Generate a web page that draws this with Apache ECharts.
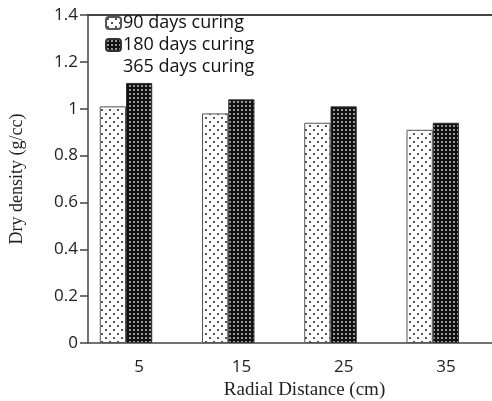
<!DOCTYPE html>
<html>
<head>
<meta charset="utf-8">
<script src="https://cdn.jsdelivr.net/npm/echarts@6/dist/echarts.min.js"></script>
<style>
  html, body { margin: 0; padding: 0; background: #fff; }
  #chart { width: 492px; height: 401px; }
</style>
</head>
<body>
<div id="chart"></div>
<script>
  // data
  var distances = ['5', '15', '25', '35'];
  var days90 = [1.01, 0.98, 0.94, 0.91];
  var days180 = [1.11, 1.04, 1.01, 0.94];
  var days365 = [0, 0, 0, 0];
  var yTicks = [0, 0.2, 0.4, 0.6, 0.8, 1, 1.2, 1.4];

  // fill patterns
  function dotPattern() {
    var c = document.createElement('canvas');
    c.width = 8; c.height = 8;
    var ctx = c.getContext('2d');
    ctx.fillStyle = '#fff';
    ctx.fillRect(0, 0, 8, 8);
    ctx.fillStyle = '#555';
    ctx.fillRect(1, 1, 2, 2);
    ctx.fillRect(5, 5, 2, 2);
    return c;
  }
  function gridPattern() {
    var c = document.createElement('canvas');
    c.width = 4; c.height = 4;
    var ctx = c.getContext('2d');
    ctx.fillStyle = '#111';
    ctx.fillRect(0, 0, 4, 4);
    ctx.fillStyle = '#999';
    ctx.fillRect(1, 1, 2, 2);
    return c;
  }

  var chart = echarts.init(document.getElementById('chart'));
  var tickFont = { fontFamily: 'Open Sans', fontSize: 17, color: '#222' };

  chart.setOption({
    animation: false,
    grid: { left: 88, right: -5, top: 15, bottom: 58, outerBoundsMode: 'none' },
    legend: {
      orient: 'vertical',
      left: 100, top: 9,
      itemWidth: 15, itemHeight: 12, itemGap: 4,
      textStyle: { fontFamily: 'Open Sans', fontSize: 18, color: '#111', padding: [0, 0, 0, -3] },
      data: ['90 days curing', '180 days curing', '365 days curing']
    },
    xAxis: [{
      type: 'category',
      data: distances,
      name: 'Radial Distance (cm)',
      nameLocation: 'middle',
      nameGap: 37,
      nameTextStyle: { fontFamily: 'Liberation Serif', fontSize: 19, color: '#222', padding: [0, 0, 0, 24] },
      axisLine: { lineStyle: { color: '#444', width: 1.5 } },
      axisTick: { show: false },
      axisLabel: Object.assign({ margin: 16 }, tickFont)
    }, {
      type: 'category',
      position: 'top',
      data: distances,
      axisLine: { lineStyle: { color: '#444', width: 2 } },
      axisTick: { show: false },
      axisLabel: { show: false }
    }],
    yAxis: {
      type: 'value',
      min: 0, max: 1.4, interval: 0.2,
      name: 'Dry density (g/cc)',
      nameLocation: 'middle',
      nameGap: 62,
      nameTextStyle: { fontFamily: 'Liberation Serif', fontSize: 18, color: '#222' },
      axisLine: { show: true, lineStyle: { color: '#444', width: 1.5 } },
      axisTick: { show: true, length: 8, lineStyle: { color: '#444', width: 1.5 } },
      splitLine: { show: false },
      axisLabel: Object.assign({
        margin: 10,
        formatter: function (v) {
          for (var i = 0; i < yTicks.length; i++) {
            if (Math.abs(yTicks[i] - v) < 1e-6) return String(yTicks[i]);
          }
          return '';
        }
      }, tickFont)
    },
    series: [{
      name: '90 days curing',
      type: 'bar',
      data: days90,
      barGap: '0%',
      barCategoryGap: '23%',
      itemStyle: { color: { image: dotPattern(), repeat: 'repeat' }, borderColor: '#555', borderWidth: 1 }
    }, {
      name: '180 days curing',
      type: 'bar',
      data: days180,
      itemStyle: { color: { image: gridPattern(), repeat: 'repeat' }, borderColor: '#333', borderWidth: 1 }
    }, {
      name: '365 days curing',
      type: 'bar',
      data: days365,
      itemStyle: { color: 'rgba(0,0,0,0)', borderWidth: 0 }
    }]
  });
</script>
</body>
</html>
